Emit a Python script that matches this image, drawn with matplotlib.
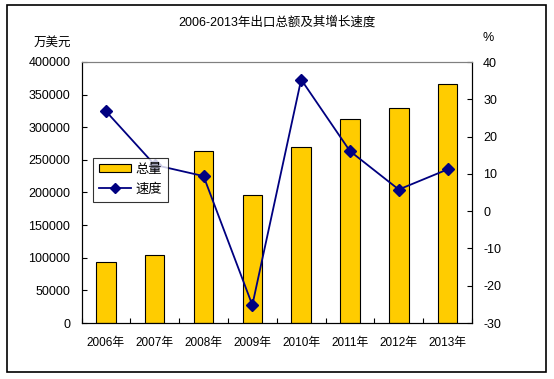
import matplotlib
matplotlib.use("Agg")
import matplotlib.pyplot as plt
from matplotlib.patches import Rectangle
from matplotlib.lines import Line2D
import numpy as np

plt.rcParams['font.family'] = ['Liberation Sans', 'Noto Sans CJK SC', 'DejaVu Sans']

categories = ['2006年', '2007年', '2008年', '2009年', '2010年', '2011年', '2012年', '2013年']
total = [93000, 103800, 263600, 195700, 269300, 312200, 329000, 365800]
speed = [26.8, 12.4, 9.4, -25.2, 35.3, 16.1, 5.8, 11.2]
left_ticks = [0, 50000, 100000, 150000, 200000, 250000, 300000, 350000, 400000]
right_ticks = [-30, -20, -10, 0, 10, 20, 30, 40]

W, H = 554, 379
fig = plt.figure(figsize=(W / 100, H / 100), dpi=100)
fig.patch.set_facecolor('white')

# outer border
fig.patches.append(Rectangle((7 / W, 1 - 372 / H), (546 - 7) / W, (372 - 5) / H,
                             transform=fig.transFigure, fill=False,
                             edgecolor='black', linewidth=1.2, zorder=0))

l, r, t, b = 81.5, 472, 62, 323
ax = fig.add_axes([l / W, 1 - b / H, (r - l) / W, (b - t) / H])
ax2 = ax.twinx()

x = np.arange(len(categories))
bars = ax.bar(x, total, width=0.4, color='#FFCC00', edgecolor='black', linewidth=0.8, zorder=2)
ax.set_xlim(-0.5, len(categories) - 0.5)
ax.set_ylim(0, 400000)
ax.set_yticks(left_ticks)
ax.set_yticklabels([str(v) for v in left_ticks], fontsize=9)
ax.set_xticks(x)
ax.set_xticklabels(categories, fontsize=8.5)
ax.set_xticks(np.arange(-0.5, len(categories)), minor=True)
ax.tick_params(axis='x', which='major', length=0, pad=10)
ax.tick_params(axis='x', which='minor', direction='in', length=3.5, width=0.8)
ax.tick_params(axis='y', direction='in', length=3.5, width=0.8, pad=8)

ax2.plot(x, speed, color='#000080', linewidth=1.3, marker='D', markersize=6,
         markerfacecolor='#000080', markeredgecolor='#000080', zorder=3)
ax2.set_ylim(-30, 40)
ax2.set_yticks(right_ticks)
ax2.set_yticklabels([str(v) for v in right_ticks], fontsize=9)
ax2.tick_params(axis='y', direction='in', length=3.5, width=0.8, pad=8)

for a in (ax, ax2):
    a.spines['top'].set_color('#808080')
    a.spines['top'].set_linewidth(0.8)
    a.spines['left'].set_linewidth(0.8)
    a.spines['right'].set_linewidth(0.8)
    a.spines['bottom'].set_linewidth(0.8)

handles = [Rectangle((0, 0), 1, 1, facecolor='#FFCC00', edgecolor='black', linewidth=0.8),
           Line2D([], [], color='#000080', linewidth=1.3, marker='D', markersize=5,
                  markerfacecolor='#000080')]
leg = ax2.legend(handles, ['总量', '速度'], loc='upper left',
                 bbox_to_anchor=((93 - l) / (r - l), (b - 158) / (b - t)),
                 borderaxespad=0, frameon=True, fancybox=False, fontsize=9.5,
                 handlelength=2.4, handleheight=0.6, handletextpad=0.4,
                 borderpad=0.45, labelspacing=0.55)
leg.get_frame().set_edgecolor('black')
leg.get_frame().set_linewidth(0.8)
leg.set_zorder(10)

fig.text(277 / W, 1 - 22 / H, '2006-2013年出口总额及其增长速度', ha='center', va='center', fontsize=9)
fig.text(52 / W, 1 - 43 / H, '万美元', ha='center', va='center', fontsize=9)
fig.text(488 / W, 1 - 38 / H, '%', ha='center', va='center', fontsize=9)

fig.savefig('out.png', dpi=100)
